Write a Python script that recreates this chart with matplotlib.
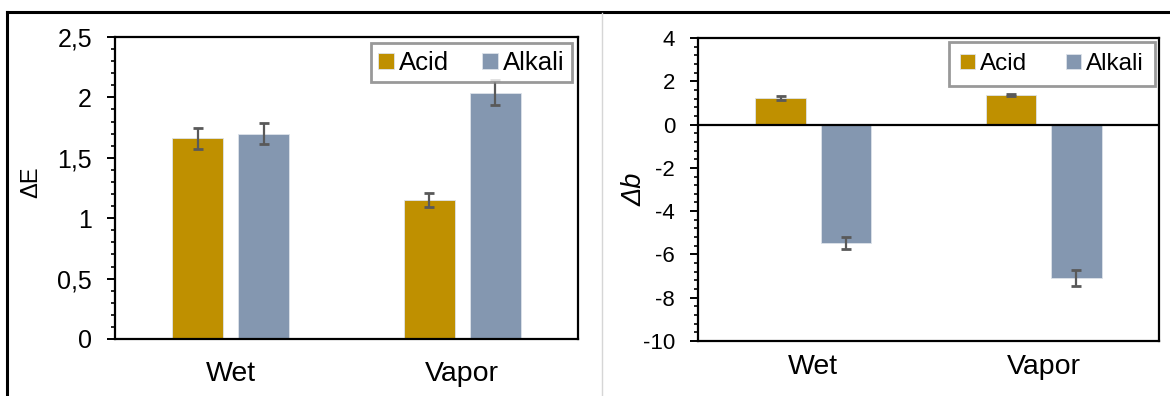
import matplotlib
matplotlib.use("Agg")
import matplotlib.pyplot as plt
from matplotlib.lines import Line2D
from matplotlib.ticker import FixedLocator, MultipleLocator
import numpy as np

plt.rcParams['font.family'] = ['Liberation Sans', 'DejaVu Sans']

# Data
categories = ["Wet", "Vapor"]
series = ["Acid", "Alkali"]

dE_acid = [1.66, 1.15]
dE_alkali = [1.70, 2.04]
dE_acid_err = [0.09, 0.06]
dE_alkali_err = [0.085, 0.10]

db_acid = [1.22, 1.37]
db_alkali = [-5.46, -7.10]
db_acid_err = [0.08, 0.06]
db_alkali_err = [0.27, 0.36]

dE_ticks = [0, 0.5, 1, 1.5, 2, 2.5]
dE_ticklabels = ["0", "0,5", "1", "1,5", "2", "2,5"]
db_ticks = [-10, -8, -6, -4, -2, 0, 2, 4]
db_ticklabels = ["-10", "-8", "-6", "-4", "-2", "0", "2", "4"]

colors = {"Acid": "#BF9000", "Alkali": "#8497B0"}
err_color = "#595959"

fig = plt.figure(figsize=(11.7, 3.96), dpi=100)

ax1 = fig.add_axes([115 / 1170, 57 / 396, 463 / 1170, 302 / 396])
ax2 = fig.add_axes([698 / 1170, 55 / 396, 461 / 1170, 303 / 396])

width = 0.22
offset = 0.142
x = np.arange(len(categories))


def draw_panel(ax, acid, alkali, acid_err, alkali_err, ticks, ticklabels,
               minor, ylim, ylabel, ylabel_kw, label_xy, tick_fs, leg_kw,
               xlab_pad):
    for vals, errs, name, sgn in ((acid, acid_err, "Acid", -1),
                                  (alkali, alkali_err, "Alkali", 1)):
        ax.bar(x + sgn * offset, vals, width, color=colors[name],
               edgecolor="#dde3ea", linewidth=0.6, label=name, zorder=2)
        ax.errorbar(x + sgn * offset, vals, yerr=errs, fmt="none",
                    ecolor=err_color, elinewidth=1.6, capsize=3.8,
                    capthick=2.0, zorder=3)
    ax.set_xlim(-0.5, 1.5)
    ax.set_ylim(*ylim)
    ax.yaxis.set_major_locator(FixedLocator(ticks))
    ax.set_yticklabels(ticklabels)
    ax.yaxis.set_minor_locator(MultipleLocator(minor))
    ax.tick_params(axis="y", which="major", direction="out", length=5.5,
                   width=1.4, labelsize=tick_fs, pad=11)
    ax.tick_params(axis="y", which="minor", direction="out", length=3,
                   width=1.2)
    ax.set_xticks(x)
    ax.set_xticklabels(categories)
    ax.tick_params(axis="x", which="both", length=0, labelsize=20.5,
                   pad=xlab_pad)
    for sp in ax.spines.values():
        sp.set_linewidth(1.6)
        sp.set_color("black")
    ax.set_ylabel(ylabel, **ylabel_kw)
    ax.yaxis.set_label_coords(*label_xy)
    leg = ax.legend(loc="upper right", ncol=2, frameon=True, fancybox=False,
                    edgecolor="#808080", handlelength=0.62,
                    handleheight=0.6, handletextpad=0.2, borderaxespad=0,
                    **leg_kw)
    leg.get_frame().set_linewidth(2.0)


draw_panel(ax1, dE_acid, dE_alkali, dE_acid_err, dE_alkali_err,
           dE_ticks, dE_ticklabels, 0.1, (0, 2.5), "\u0394E",
           dict(fontsize=17), (-0.158, 0.52), 18,
           dict(fontsize=18.5, columnspacing=1.25, borderpad=0.3,
                bbox_to_anchor=(0.987, 0.98)),
           16)

draw_panel(ax2, db_acid, db_alkali, db_acid_err, db_alkali_err,
           db_ticks, db_ticklabels, 0.4, (-10, 4), "\u0394b",
           dict(fontsize=19.5, style="italic"), (-0.11, 0.5), 16,
           dict(fontsize=17.5, columnspacing=1.6, borderpad=0.45,
                bbox_to_anchor=(0.991, 0.987)),
           9)
ax2.axhline(0, color="black", linewidth=1.6, zorder=4)

# Outer frame and panel divider
fig.add_artist(Line2D([7 / 1170, 7 / 1170], [0, 1 - 12 / 396],
                      transform=fig.transFigure, color="black", lw=2.2))
fig.add_artist(Line2D([7 / 1170, 1], [1 - 12 / 396, 1 - 12 / 396],
                      transform=fig.transFigure, color="black", lw=2.2))
fig.add_artist(Line2D([602 / 1170, 602 / 1170], [0, 1 - 13 / 396],
                      transform=fig.transFigure, color="#d6d6d6", lw=1.0))

fig.savefig("out.png", dpi=100)
